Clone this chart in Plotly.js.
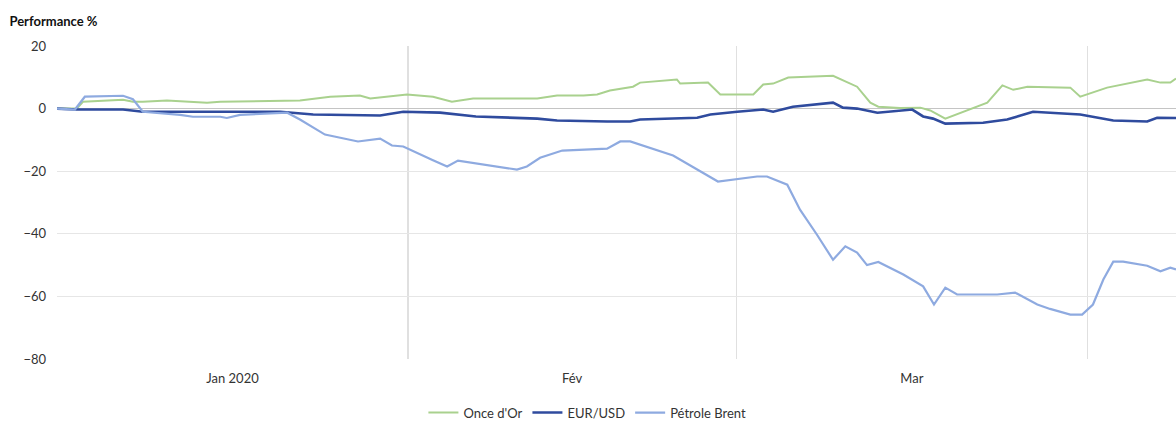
<!DOCTYPE html>
<html>
<head>
<meta charset="utf-8">
<script src="https://cdn.plot.ly/plotly-3.0.1.min.js"></script>
<style>html,body{margin:0;padding:0;background:#fff;}#chart{width:1176px;height:421px;}</style>
</head>
<body>
<div id="chart"></div>
<script>
// Gold (Once d'Or)
const goldDates = ["2020-01-01 00:00","2020-01-02 18:00","2020-01-03 07:00","2020-01-06 20:00","2020-01-07 17:00","2020-01-08 14:00","2020-01-10 17:00","2020-01-14 06:00","2020-01-15 10:00","2020-01-20 17:00","2020-01-22 11:00","2020-01-25 03:00","2020-01-27 18:00","2020-01-28 16:00","2020-01-30 10:00","2020-01-31 22:00","2020-02-03 05:00","2020-02-04 21:00","2020-02-06 18:00","2020-02-12 10:00","2020-02-14 04:00","2020-02-16 12:00","2020-02-17 17:00","2020-02-18 20:00","2020-02-20 21:00","2020-02-21 12:00","2020-02-24 18:00","2020-02-25 01:00","2020-02-27 12:00","2020-02-28 14:00","2020-03-02 12:00","2020-03-03 09:00","2020-03-04 06:00","2020-03-05 14:00","2020-03-09 13:00","2020-03-10 19:00","2020-03-11 16:00","2020-03-12 20:00","2020-03-13 13:00","2020-03-15 11:00","2020-03-17 06:00","2020-03-18 03:00","2020-03-19 11:00","2020-03-23 04:00","2020-03-24 12:00","2020-03-25 11:00","2020-03-26 17:00","2020-03-30 12:00","2020-03-31 09:00","2020-04-02 18:00","2020-04-06 07:00","2020-04-07 11:00","2020-04-08 08:00","2020-04-08 20:00"];
const goldValues = [0,0,2.2,2.8,2.2,2.2,2.6,1.9,2.2,2.5,2.6,3.8,4.2,3.2,3.8,4.5,3.8,2.2,3.2,3.2,4.2,4.2,4.5,5.8,7.0,8.3,9.3,8.0,8.3,4.5,4.5,7.7,8.0,9.9,10.5,8.3,7.0,1.9,0.6,0.2,0.3,-0.6,-3.2,1.9,7.4,6.0,7.0,6.7,3.8,6.7,9.3,8.3,8.3,9.6];

// EUR/USD
const eurDates = ["2020-01-01 00:00","2020-01-02 18:00","2020-01-06 20:00","2020-01-08 14:00","2020-01-12 03:00","2020-01-16 13:00","2020-01-20 17:00","2020-01-23 15:00","2020-01-29 13:00","2020-01-31 14:00","2020-02-03 20:00","2020-02-07 00:00","2020-02-12 10:00","2020-02-14 04:00","2020-02-17 17:00","2020-02-18 14:00","2020-02-20 15:00","2020-02-21 12:00","2020-02-26 13:00","2020-02-27 17:00","2020-03-01 02:00","2020-03-03 09:00","2020-03-04 06:00","2020-03-06 00:00","2020-03-09 13:00","2020-03-10 10:00","2020-03-11 16:00","2020-03-13 11:00","2020-03-16 13:00","2020-03-17 12:00","2020-03-18 09:00","2020-03-19 11:00","2020-03-22 19:00","2020-03-24 22:00","2020-03-27 05:00","2020-03-31 09:00","2020-04-03 07:00","2020-04-06 07:00","2020-04-07 04:00","2020-04-08 20:00"];
const eurValues = [0,-0.3,-0.3,-1.0,-1.0,-0.9,-1.0,-1.9,-2.2,-1.0,-1.3,-2.5,-3.2,-3.8,-4.1,-4.1,-4.1,-3.5,-2.9,-1.9,-1.0,-0.3,-1.0,0.6,1.9,0.3,0,-1.3,-0.3,-2.5,-3.2,-4.8,-4.5,-3.5,-1.0,-1.9,-3.8,-4.1,-2.9,-3.0];

// Pétrole Brent
const brentDates = ["2020-01-01 00:00","2020-01-02 14:00","2020-01-03 11:00","2020-01-06 20:00","2020-01-07 17:00","2020-01-08 14:00","2020-01-11 21:00","2020-01-13 00:00","2020-01-15 10:00","2020-01-16 00:00","2020-01-17 04:00","2020-01-21 08:00","2020-01-22 11:00","2020-01-24 16:00","2020-01-27 14:00","2020-01-29 13:00","2020-01-30 14:00","2020-01-31 14:00","2020-02-03 05:00","2020-02-04 11:00","2020-02-05 10:00","2020-02-10 15:00","2020-02-11 12:00","2020-02-12 16:00","2020-02-14 15:00","2020-02-18 14:00","2020-02-19 18:00","2020-02-20 15:00","2020-02-24 10:00","2020-02-28 09:00","2020-03-02 20:00","2020-03-03 17:00","2020-03-05 12:00","2020-03-06 15:00","2020-03-08 03:00","2020-03-09 13:00","2020-03-10 15:00","2020-03-11 16:00","2020-03-12 13:00","2020-03-13 13:00","2020-03-15 18:00","2020-03-17 12:00","2020-03-18 11:00","2020-03-19 11:00","2020-03-20 12:00","2020-03-24 01:00","2020-03-25 15:00","2020-03-27 14:00","2020-03-28 17:00","2020-03-30 12:00","2020-03-31 13:00","2020-04-01 12:00","2020-04-02 10:00","2020-04-03 07:00","2020-04-04 04:00","2020-04-06 07:00","2020-04-07 11:00","2020-04-08 08:00","2020-04-08 20:00"];
const brentValues = [0,-0.3,3.8,4.1,3.0,-1.0,-2.0,-2.6,-2.6,-3.0,-2.0,-1.3,-3.5,-8.3,-10.5,-9.6,-11.8,-12.1,-16.5,-18.5,-16.6,-19.5,-18.5,-15.7,-13.4,-12.8,-10.5,-10.5,-15.0,-23.3,-21.7,-21.7,-24.3,-32.3,-40.3,-48.3,-44.0,-46.0,-50.0,-49.0,-53.0,-56.8,-62.6,-57.2,-59.4,-59.4,-58.8,-62.6,-64.0,-65.8,-65.8,-62.6,-54.6,-48.9,-48.9,-50.2,-52.0,-50.8,-51.4];

const monthTickVals = ["2020-01-16 12:00","2020-02-15 12:00","2020-03-16 12:00"];
const monthTickText = ["Jan 2020","Fév","Mar"];
const seriesNames = ["Once d'Or","EUR/USD","Pétrole Brent"];

const traces = [
  {x: goldDates, y: goldValues, name: seriesNames[0], type: 'scatter', mode: 'lines',
   line: {color: '#a9d18e', width: 2}},
  {x: eurDates, y: eurValues, name: seriesNames[1], type: 'scatter', mode: 'lines',
   line: {color: '#2f4b9e', width: 2.6}},
  {x: brentDates, y: brentValues, name: seriesNames[2], type: 'scatter', mode: 'lines',
   line: {color: '#8eaae0', width: 2.2}}
];

const layout = {
  width: 1176, height: 421,
  margin: {l: 57, r: 0, t: 46, b: 62},
  paper_bgcolor: '#fff', plot_bgcolor: '#fff',
  font: {family: 'Lato, "Open Sans", sans-serif', size: 13, color: '#333'},
  title: {text: '<b>Performance %</b>', font: {size: 13, color: '#111', family: 'Lato, sans-serif'},
          xref: 'container', yref: 'container', x: 0.008, xanchor: 'left', y: 0.948, yanchor: 'middle'},
  showlegend: true,
  legend: {orientation: 'h', xref: 'paper', x: 0.474, xanchor: 'center', yref: 'container', y: 0.02, yanchor: 'middle',
           font: {size: 13, color: '#333'}, itemwidth: 30},
  xaxis: {
    type: 'date',
    range: ['2020-01-01 00:00', '2020-04-08 20:00'],
    tickmode: 'array', tickvals: monthTickVals, ticktext: monthTickText,
    showgrid: false, ticks: '', zeroline: false, showline: false,
    ticklabelstandoff: 10,
    tickfont: {size: 13, color: '#333'},
    minor: {dtick: 'M1', tick0: '2020-01-01', showgrid: true, gridcolor: '#e0e0e0', gridwidth: 1.5, ticks: ''}
  },
  yaxis: {
    range: [-80, 20], dtick: 20, tick0: 0,
    showgrid: true, gridcolor: '#e6e6e6', gridwidth: 1,
    zeroline: true, zerolinecolor: '#c4c4c4', zerolinewidth: 1,
    ticks: '', showline: false, ticklabelstandoff: 10,
    tickfont: {size: 13, color: '#333'}
  },
  hovermode: false
};

Plotly.newPlot('chart', traces, layout, {displayModeBar: false, staticPlot: true});
</script>
</body>
</html>
